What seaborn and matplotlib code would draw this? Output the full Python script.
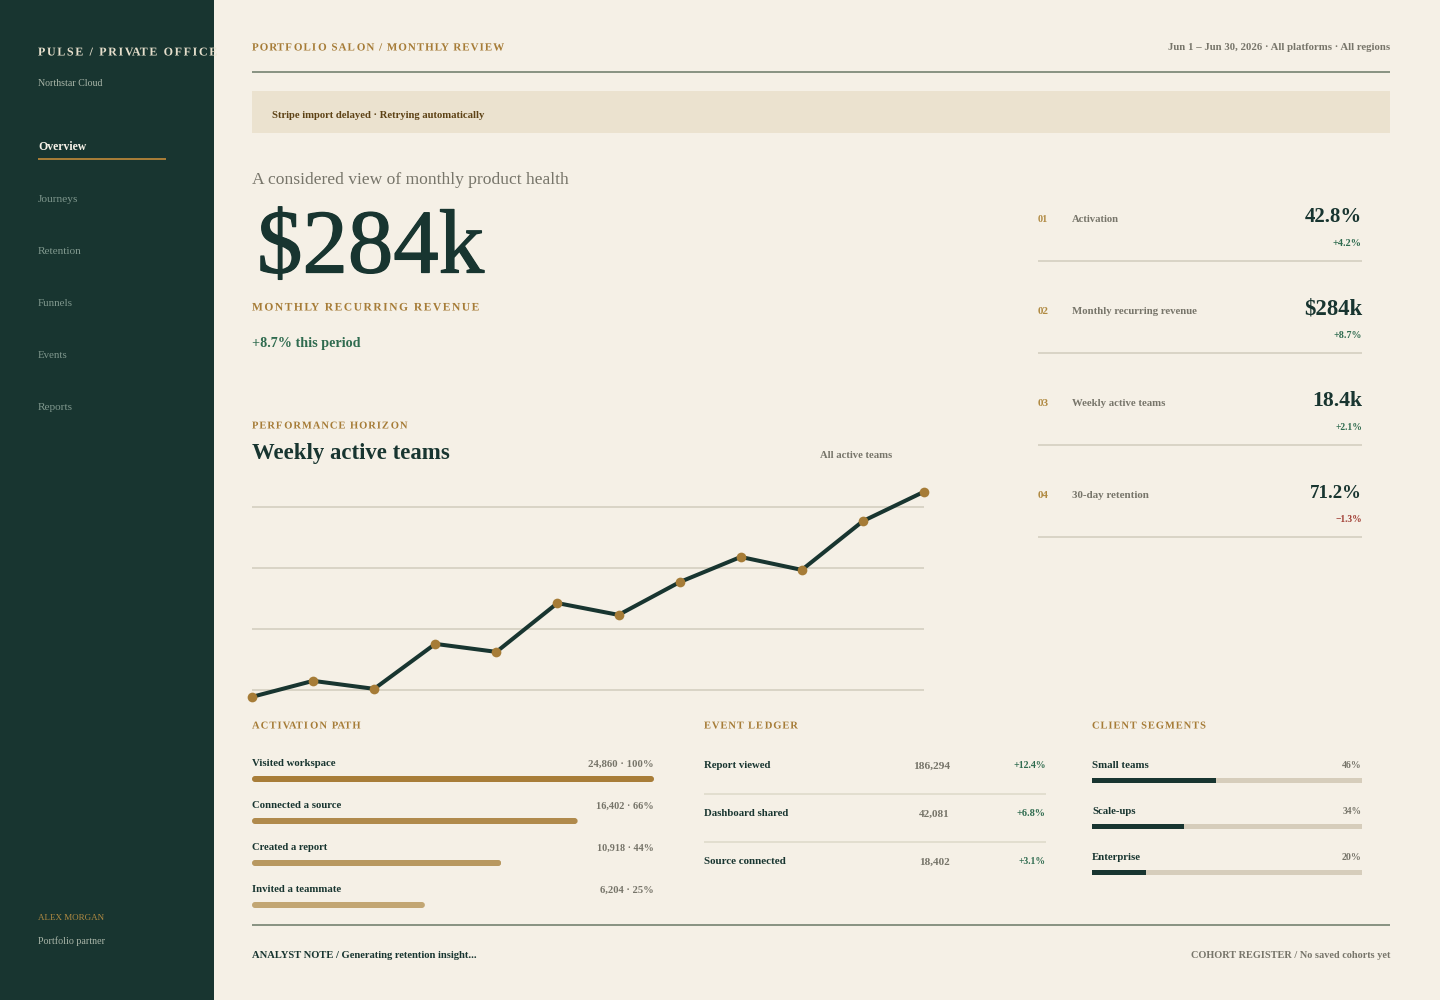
import matplotlib
matplotlib.use("Agg")
import matplotlib.pyplot as plt
from matplotlib.patches import Rectangle, FancyBboxPatch
from matplotlib.path import Path
from matplotlib.patheffects import AbstractPathEffect, Stroke, Normal
from matplotlib.transforms import IdentityTransform
import numpy as np
import pandas as pd
import seaborn as sns

# ---- data ----
nav_items = ["Overview", "Journeys", "Retention", "Funnels", "Events", "Reports"]
weeks = list(range(12))
weekly_active_teams = [13020, 13440, 13230, 14410, 14200, 15480, 15170, 16030, 16690, 16350, 17630, 18400]
grid_values = [13200, 14800, 16400, 18000]

kpi_ids = ["01", "02", "03", "04"]
kpi_labels = ["Activation", "Monthly recurring revenue", "Weekly active teams", "30-day retention"]
kpi_values = ["42.8%", "$284k", "18.4k", "71.2%"]
kpi_deltas = ["+4.2%", "+8.7%", "+2.1%", "\u22121.3%"]

funnel_steps = ["Visited workspace", "Connected a source", "Created a report", "Invited a teammate"]
funnel_text = ["24,860 \u00b7 100%", "16,402 \u00b7 66%", "10,918 \u00b7 44%", "6,204 \u00b7 25%"]
funnel_bar_pct = [100, 81, 62, 43]

ledger_events = ["Report viewed", "Dashboard shared", "Source connected"]
ledger_counts = ["186,294", "42,081", "18,402"]
ledger_deltas = ["+12.4%", "+6.8%", "+3.1%"]

segments = ["Small teams", "Scale-ups", "Enterprise"]
segment_share = [46, 34, 20]
segment_track = [100, 100, 100]

# ---- styles ----
CREAM = "#f5f0e6"
FOREST = "#183530"
GOLD = "#a67c37"
GREY = "#77756a"
GREEN = "#2f6b4f"
RED = "#a03c32"
LINE = "#d9d4c6"
RULE = "#8a9484"
SERIF = "Liberation Serif"
funnel_colors = ["#a87d38", "#b08a4c", "#b89860", "#c2a673"]

sns.set_theme(style="white", rc={"font.family": SERIF})
W, H = 1440, 1000
fig = plt.figure(figsize=(W / 100, H / 100), dpi=100, facecolor=CREAM)
renderer = fig.canvas.get_renderer()


def px_axes(x0, y0, x1, y1, **kw):
    """Axes covering a pixel box (y measured from the top)."""
    return fig.add_axes([x0 / W, 1 - y1 / H, (x1 - x0) / W, (y1 - y0) / H], **kw)


bg = px_axes(0, 0, W, H, zorder=0)
bg.set_xlim(0, W); bg.set_ylim(H, 0); bg.axis("off")
ov = px_axes(0, 0, W, H, zorder=5)
ov.set_xlim(0, W); ov.set_ylim(H, 0); ov.axis("off"); ov.patch.set_alpha(0)


class Tracking(AbstractPathEffect):
    """Letter-spacing for a single Text: shifts each glyph's outline sideways."""

    def __init__(self, spacing, space_gap):
        super().__init__()
        self.spacing = spacing
        self.space_gap = space_gap

    def draw_path(self, renderer, gc, tpath, affine, rgbFace=None):
        p = affine.transform_path(tpath)
        v, c = p.vertices.copy(), p.codes
        starts = list(np.where(c == Path.MOVETO)[0]) + [len(c)]
        idx, right = -1, -np.inf
        for a, b in zip(starts[:-1], starts[1:]):
            real = v[a:b][c[a:b] != Path.CLOSEPOLY, 0]
            if real.min() > right - 0.01:
                # a word gap counts as one more spaced character
                idx += 2 if idx >= 0 and real.min() - right > self.space_gap else 1
            right = max(right, real.max()) if real.min() <= right else real.max()
            v[a:b, 0] += idx * self.spacing
        renderer.draw_path(gc, Path(v, c), IdentityTransform(), rgbFace)


def T(x, y, s, width, color=FOREST, weight="normal", ha="left"):
    t = ov.text(x, y + 0.5, s, color=color, fontweight=weight, ha=ha, va="baseline",
                family=SERIF, fontsize=10, clip_on=False)
    for _ in range(3):
        w = t.get_window_extent(renderer).width
        t.set_fontsize(t.get_fontsize() * width / w)
    return t


def TS(x, y, s, width, px, color=GOLD, weight="bold"):
    """Tracked capitals: real text at a fixed size, spaced out to a width."""
    t = ov.text(x, y + 0.5, s, color=color, fontweight=weight, ha="left", va="baseline",
                family=SERIF, fontsize=px * 0.72, clip_on=False)
    w = t.get_window_extent(renderer).width
    t.set_path_effects([Tracking((width - w) / (len(s) - 1), 0.24 * px)])
    return t


def box(a, x0, y0, x1, y1, c):
    a.add_patch(Rectangle((x0, y0), x1 - x0, y1 - y0, fc=c, ec="none"))


# ---- panels ----
box(bg, 0, 0, 214, H, FOREST)
box(bg, 252, 71, 1390, 73, RULE)
box(bg, 252, 91, 1390, 133, "#ebe2cf")
box(bg, 252, 924, 1390, 926, RULE)
box(bg, 38, 158, 166, 160, GOLD)

# ---- sidebar ----
TS(38, 55, "PULSE / PRIVATE OFFICE", 183, 12, "#e6dfcc")
T(38, 86, "Northstar Cloud", 65, "#a9b5a8")
nav_w = [48, 40, 44, 35, 30, 35]
for i, (n, w) in enumerate(zip(nav_items, nav_w)):
    if i == 0:
        T(38, 150, n, w, "#f7f2e8", "bold")
    else:
        T(38, 150 + 52 * i, n, w, "#7f978d")
T(38, 920, "ALEX MORGAN", 66, "#b08a42")
T(38, 944, "Portfolio partner", 67, "#a9b5a8")

# ---- header ----
TS(252, 50, "PORTFOLIO SALON / MONTHLY REVIEW", 251, 11)
T(1390, 50, "Jun 1 \u2013 Jun 30, 2026 \u00b7 All platforms \u00b7 All regions", 222, GREY, "bold", ha="right")
T(272, 117, "Stripe import delayed \u00b7 Retrying automatically", 214, "#5d4215", "bold")

# ---- hero ----
T(252, 184, "A considered view of monthly product health", 316, GREY)
hero = T(257, 272, "$284k", 227, FOREST)
hero.set_path_effects([Stroke(linewidth=0.9, foreground=FOREST), Normal()])
TS(252, 310, "MONTHLY RECURRING REVENUE", 228, 11.5)
T(252, 346, "+8.7% this period", 108, GREEN, "bold")

# ---- weekly chart ----
TS(252, 428, "PERFORMANCE HORIZON", 153, 10.5)
T(252, 459, "Weekly active teams", 198, FOREST, "bold")
T(892, 457, "All active teams", 73, GREY, "bold", ha="right")

ax = px_axes(252, 480, 924, 700, zorder=2)
ax.patch.set_alpha(0)
df = pd.DataFrame({"week": weeks, "teams": weekly_active_teams})
sns.lineplot(data=df, x="week", y="teams", ax=ax, color=FOREST, linewidth=2.9,
             marker="o", markersize=7, markerfacecolor=GOLD, markeredgewidth=0,
             clip_on=False, solid_joinstyle="miter", errorbar=None)
ax.set_xlim(0, 11)
ax.set_ylim(12938, 18708)
ax.set_yticks(grid_values)
ax.set_xticks([])
ax.tick_params(left=False, labelleft=False)
ax.set_xlabel(""); ax.set_ylabel("")
ax.yaxis.grid(True, color=LINE, linewidth=1.44)
ax.set_axisbelow(True)
sns.despine(ax=ax, left=True, bottom=True)

# ---- KPI list ----
id_w = [10, 11, 11, 11]
lab_w = [47, 126, 94, 77]
val_w = [57, 58, 50, 52]
del_w = [29, 28, 27, 27]
for i in range(4):
    dy = 92 * i
    T(1038, 221 + dy, kpi_ids[i], id_w[i], "#b08a42", "bold")
    T(1072, 221 + dy, kpi_labels[i], lab_w[i], GREY, "bold")
    T(1362, 222 + dy, kpi_values[i], val_w[i], FOREST, "bold", ha="right")
    T(1362, 245 + dy, kpi_deltas[i], del_w[i], RED if kpi_deltas[i][0] == "\u2212" else GREEN, "bold", ha="right")
    box(bg, 1038, 260 + dy, 1362, 262 + dy, LINE)

# ---- activation path ----
TS(252, 728, "ACTIVATION PATH", 112, 10.5)
ax2 = px_axes(252, 758, 654, 926, zorder=2)
ax2.patch.set_alpha(0)
sns.barplot(x=funnel_bar_pct, y=funnel_steps, hue=funnel_steps, palette=funnel_colors,
            orient="h", width=6 / 42, saturation=1, legend=False, ax=ax2,
            edgecolor="none", linewidth=0)
ax2.set_xlim(0, 100)
ax2.axis("off")
for bar in ax2.patches:
    e = bar.get_window_extent(renderer)
    if e.width <= 0:
        continue
    r = FancyBboxPatch((e.x0, e.y0), e.width, e.height,
                       boxstyle="round,pad=0,rounding_size=3", transform=IdentityTransform())
    bar.set_clip_path(r)
fn_w = [84, 90, 76, 89]
fv_w = [65, 58, 57, 53]
for i in range(4):
    T(252, 766 + 42 * i, funnel_steps[i], fn_w[i], FOREST, "bold")
    T(654, 766 + 42 * i, funnel_text[i], fv_w[i], GREY, "bold", ha="right")

# ---- ledger ----
TS(704, 728, "EVENT LEDGER", 93, 10.5)
le_w = [67, 85, 82]
lc_w = [37, 31, 31]
ld_w = [33, 29, 27]
for i in range(3):
    y = 768 + 48 * i
    T(704, y, ledger_events[i], le_w[i], FOREST, "bold")
    T(950, y, ledger_counts[i], lc_w[i], GREY, "bold", ha="right")
    T(1046, y, ledger_deltas[i], ld_w[i], GREEN, "bold", ha="right")
    if i < 2:
        box(bg, 704, 793 + 48 * i, 1046, 795 + 48 * i, "#e2decf")

# ---- client segments ----
TS(1092, 728, "CLIENT SEGMENTS", 114, 10.5)
ax3 = px_axes(1092, 757.5, 1362, 895.5, zorder=2)
ax3.patch.set_alpha(0)
sns.barplot(x=segment_track, y=segments, color="#d6cdbb", orient="h", width=5 / 46,
            saturation=1, ax=ax3, edgecolor="none", linewidth=0)
sns.barplot(x=segment_share, y=segments, color=FOREST, orient="h", width=5 / 46,
            saturation=1, ax=ax3, edgecolor="none", linewidth=0)
ax3.set_xlim(0, 100)
ax3.axis("off")
sn_w = [57, 44, 49]
sv_w = [20, 19, 20]
for i in range(3):
    T(1092, 768 + 46 * i, segments[i], sn_w[i], FOREST, "bold")
    T(1362, 768 + 46 * i, f"{segment_share[i]}%", sv_w[i], GREY, "bold", ha="right")

# ---- footer ----
T(252, 957, "ANALYST NOTE / Generating retention insight...", 225, FOREST, "bold")
T(1390, 957, "COHORT REGISTER / No saved cohorts yet", 200, GREY, "bold", ha="right")

fig.savefig("out.png", dpi=100, facecolor=CREAM)
